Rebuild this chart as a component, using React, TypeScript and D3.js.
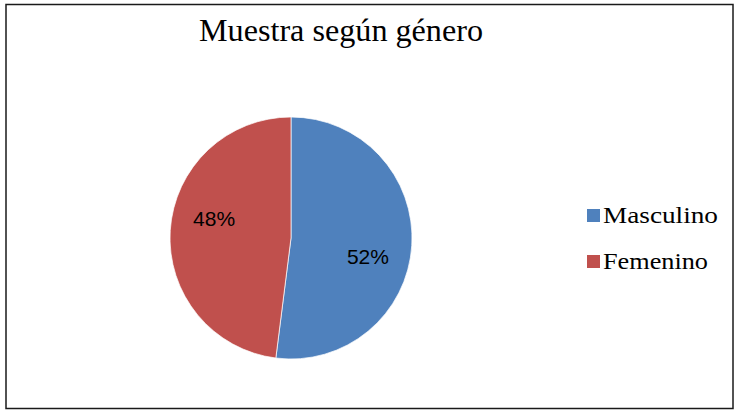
import React from "react";
import * as d3 from "d3";

const categories = ["Masculino", "Femenino"];
const values = [52, 48];
const colors = ["#4F81BD", "#C0504D"];
const title = "Muestra según género";

export default function App() {
  const W = 736, H = 410;
  const cx = 291, cy = 238, r = 121;
  const pie = d3.pie<number>().sort(null).value((d) => d);
  const arcs = pie(values);
  const arc = d3.arc<d3.PieArcDatum<number>>().innerRadius(0).outerRadius(r);
  const total = d3.sum(values);
  const labelR = r * 0.655;
  const labelShift = 0.18;
  const legendWidths = [115, 105];
  return (
    <svg width={W} height={H} style={{ position: "absolute", left: 0, top: 0 }}>
      <rect x={0} y={0} width={W} height={H} fill="#fff" />
      <rect x={6} y={4.5} width={727} height={404} fill="none" stroke="#1a1a1a" strokeWidth={1.5} />
      <text x={199} y={41} textLength={284} lengthAdjust="spacingAndGlyphs" fontFamily="'Liberation Serif', serif" fontSize={32} fill="#000">
        {title}
      </text>
      <g transform={`translate(${cx},${cy})`}>
        {arcs.map((a, i) => (
          <path key={i} d={arc(a) || ""} fill={colors[i]} stroke="#fff" strokeWidth={0.7} />
        ))}
        {arcs.map((a, i) => {
          const ang = (a.startAngle + a.endAngle) / 2 + labelShift;
          const x = labelR * Math.sin(ang);
          const y = -labelR * Math.cos(ang);
          return (
            <text key={"l" + i} x={x} y={y} dy="0.35em" textAnchor="middle" fontFamily="'Liberation Sans', sans-serif" fontSize={21} fill="#000">
              {Math.round((values[i] / total) * 100)}%
            </text>
          );
        })}
      </g>
      {categories.map((c, i) => (
        <g key={c} transform={`translate(587,${209 + i * 46})`}>
          <rect x={0} y={0} width={13} height={13} fill={colors[i]} />
          <text x={16} y={14} textLength={legendWidths[i]} lengthAdjust="spacingAndGlyphs" fontFamily="'Liberation Serif', serif" fontSize={23} fill="#000">
            {c}
          </text>
        </g>
      ))}
    </svg>
  );
}
